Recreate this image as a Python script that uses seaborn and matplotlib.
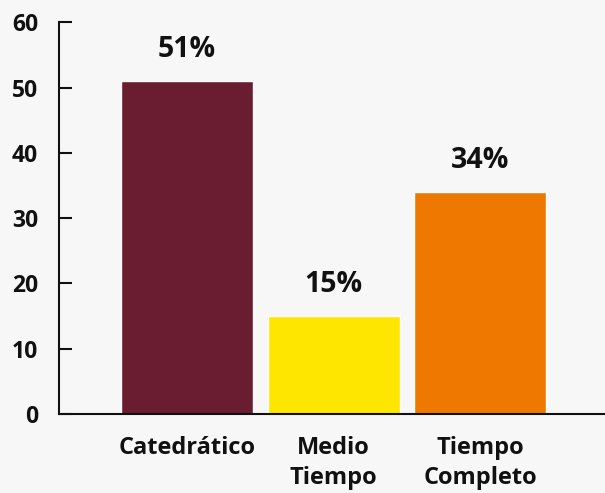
import matplotlib
matplotlib.use("Agg")
import matplotlib.pyplot as plt
import seaborn as sns
import pandas as pd

# ── Data ──────────────────────────────────────────────────────
categories = ["Catedrático", "Medio\nTiempo", "Tiempo\nCompleto"]
values     = [51, 15, 34]
labels     = ["51%", "15%", "34%"]
colors     = ["#6A1C31", "#FFE600", "#EF7800"]
y_ticks    = [0, 10, 20, 30, 40, 50, 60]

BG = "#F7F7F7"

sns.set_style("white")
plt.rcParams["font.family"] = ["Open Sans", "DejaVu Sans"]
plt.rcParams["font.weight"] = "bold"

df = pd.DataFrame({"categoria": categories, "valor": values})

fig = plt.figure(figsize=(6.05, 4.93), dpi=100, facecolor=BG)
ax = fig.add_axes([0.0975, 0.160, 0.9025, 0.795])
ax.set_facecolor(BG)

sns.barplot(data=df, x="categoria", y="valor", hue="categoria",
            palette=colors, legend=False, width=0.9, saturation=1,
            ax=ax)

# percentage labels above each bar
for i, (v, lab) in enumerate(zip(values, labels)):
    ax.text(i, v + 4.8, lab, ha="center", va="center",
            fontsize=20.5, fontweight="bold", color="#111111")

ax.set_ylim(0, 60)
ax.set_xlim(-0.873, 2.85)
ax.set_yticks(y_ticks)
ax.set_xlabel("")
ax.set_ylabel("")

for side in ["top", "right"]:
    ax.spines[side].set_visible(False)
for side in ["left", "bottom"]:
    ax.spines[side].set_color("#111111")
    ax.spines[side].set_linewidth(1.5)

ax.tick_params(axis="y", left=True, direction="in", length=9.5, width=1.5,
               color="#111111", pad=15, labelsize=16.5)
ax.tick_params(axis="x", bottom=False, length=0, pad=16, labelsize=17)
for t in ax.get_xticklabels() + ax.get_yticklabels():
    t.set_fontweight("bold")
    t.set_color("#111111")
for t in ax.get_xticklabels():
    t.set_linespacing(1.3)

fig.savefig("out.png", dpi=100, facecolor=BG)
